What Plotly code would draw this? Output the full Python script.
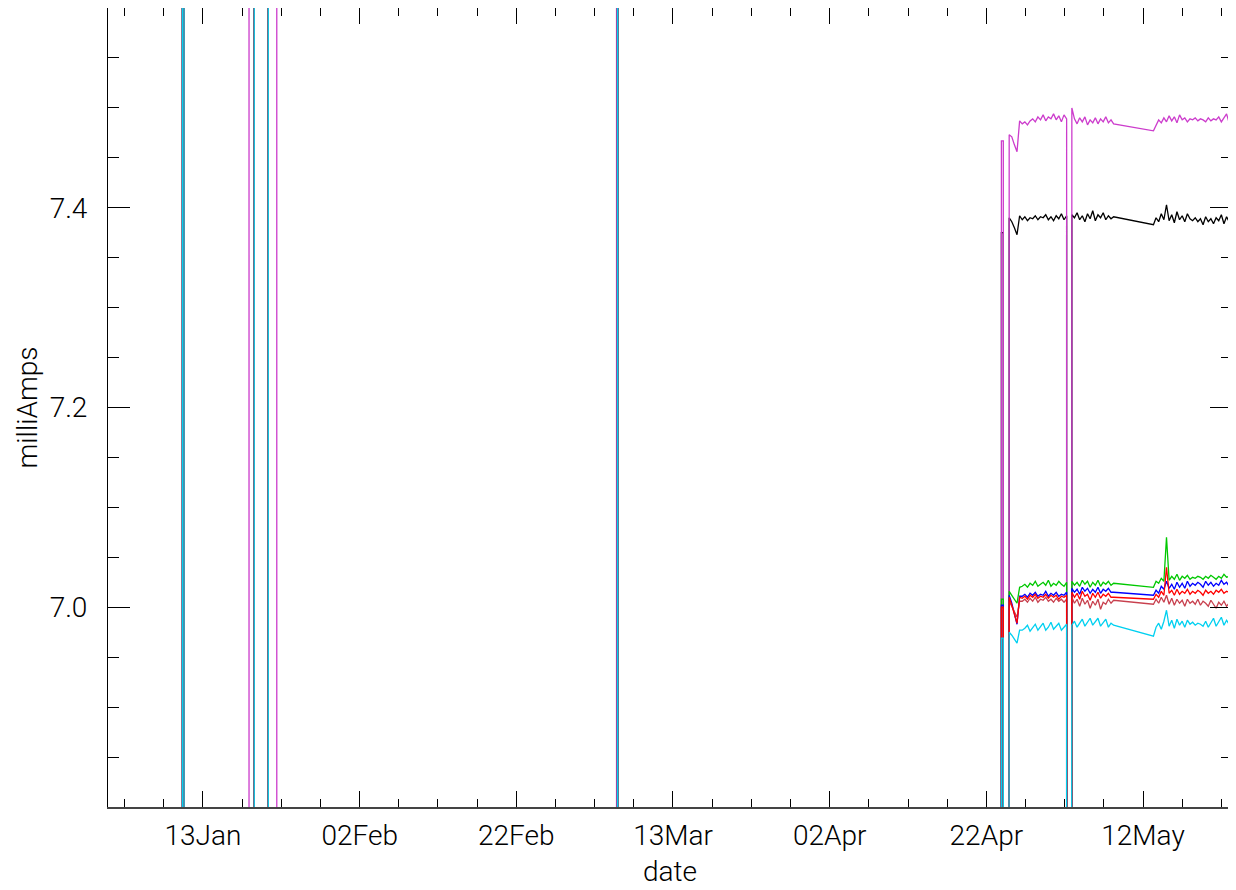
import plotly.graph_objects as go
import pandas as pd

# ---------------- data ----------------
LOW, HIGH = 0.0, 15.0          # off-scale readings (instrument off / junk)
START = "2012-01-01 00:00"

common_bursts = [("2012-01-10 09:00", "2012-01-10 14:00")]
magenta_bursts = common_bursts + [("2012-01-18 21:00", "2012-01-22 10:00"),
                                  ("2012-03-05 19:00", "2012-03-05 20:00")]
other_bursts = common_bursts + [("2012-01-19 13:00", "2012-01-21 08:00"),
                                ("2012-03-05 22:00", "2012-03-05 23:00")]

apr24_on, apr24_off = "2012-04-23 22:00", "2012-04-24 04:00"

segA_times = pd.date_range("2012-04-24 22:00", periods=23, freq="8h")
segB_times = pd.date_range("2012-05-02 22:00", periods=17, freq="8h")
segC_times = pd.date_range("2012-05-13 08:00", periods=31, freq="8h")

series_names = ["black", "magenta", "green", "blue", "darkred", "red", "cyan"]
series_colors = ["#000000", "#cc3ccc", "#00c800", "#0000ff", "#c8404e", "#ff0000", "#00d0f0"]

apr24_level = {"black": 7.375, "magenta": 7.467, "green": 7.008, "blue": 7.002,
               "darkred": 6.998, "red": 7.000, "cyan": 6.969}

black_A = [7.390, 7.386, 7.380, 7.373, 7.392, 7.388, 7.391, 7.387, 7.390, 7.389, 7.392, 7.388,
           7.391, 7.390, 7.393, 7.388, 7.391, 7.387, 7.392, 7.389, 7.394, 7.388, 7.392]
magenta_A = [7.473, 7.471, 7.463, 7.456, 7.487, 7.484, 7.486, 7.483, 7.487, 7.489, 7.486, 7.491,
             7.488, 7.493, 7.487, 7.491, 7.489, 7.494, 7.488, 7.492, 7.486, 7.493, 7.489]
green_A = [7.016, 7.012, 7.008, 7.004, 7.020, 7.021, 7.023, 7.020, 7.024, 7.022, 7.026, 7.021,
           7.023, 7.025, 7.022, 7.027, 7.021, 7.024, 7.022, 7.026, 7.023, 7.021, 7.025]
blue_A = [7.012, 7.004, 6.993, 6.983, 7.011, 7.011, 7.013, 7.010, 7.014, 7.012, 7.015, 7.011,
          7.013, 7.012, 7.016, 7.011, 7.014, 7.012, 7.015, 7.011, 7.013, 7.012, 7.015]
darkred_A = [7.006, 7.001, 6.995, 6.990, 7.006, 7.006, 7.008, 7.005, 7.009, 7.006, 7.010, 7.005,
             7.008, 7.007, 7.010, 7.006, 7.008, 7.005, 7.009, 7.006, 7.008, 7.005, 7.008]
red_A = [7.010, 7.002, 6.993, 6.984, 7.010, 7.009, 7.011, 7.008, 7.012, 7.010, 7.013, 7.009,
         7.011, 7.010, 7.013, 7.009, 7.012, 7.010, 7.012, 7.008, 7.011, 7.010, 7.012]
cyan_A = [6.975, 6.972, 6.968, 6.964, 6.977, 6.977, 6.979, 6.982, 6.976, 6.979, 6.983, 6.977,
          6.980, 6.984, 6.977, 6.980, 6.985, 6.978, 6.981, 6.984, 6.977, 6.980, 6.983]

black_B = [7.393, 7.390, 7.395, 7.388, 7.392, 7.386, 7.394, 7.389, 7.397, 7.387, 7.393, 7.390,
           7.395, 7.388, 7.392, 7.389, 7.391]
magenta_B = [7.500, 7.489, 7.484, 7.490, 7.486, 7.491, 7.483, 7.488, 7.485, 7.490, 7.484, 7.489,
             7.486, 7.491, 7.485, 7.488, 7.484]
green_B = [7.026, 7.022, 7.025, 7.021, 7.027, 7.023, 7.026, 7.020, 7.025, 7.022, 7.027, 7.021,
           7.025, 7.023, 7.026, 7.022, 7.024]
blue_B = [7.019, 7.015, 7.018, 7.013, 7.020, 7.016, 7.019, 7.014, 7.018, 7.015, 7.020, 7.014,
          7.018, 7.016, 7.019, 7.015, 7.015]
darkred_B = [7.010, 7.004, 7.008, 7.001, 7.009, 7.003, 7.007, 6.999, 7.006, 7.002, 7.008, 6.998,
             7.005, 7.003, 7.008, 7.004, 7.007]
red_B = [7.015, 7.010, 7.014, 7.008, 7.016, 7.011, 7.013, 7.007, 7.014, 7.010, 7.015, 7.009,
         7.013, 7.011, 7.014, 7.010, 7.010]
cyan_B = [6.982, 6.986, 6.980, 6.984, 6.988, 6.981, 6.985, 6.989, 6.982, 6.986, 6.989, 6.981,
          6.985, 6.988, 6.980, 6.984, 6.982]

black_C = [7.383, 7.390, 7.386, 7.394, 7.388, 7.403, 7.387, 7.393, 7.385, 7.396, 7.388, 7.392,
           7.386, 7.394, 7.389, 7.387, 7.390, 7.386, 7.389, 7.383, 7.391, 7.386, 7.389, 7.384,
           7.390, 7.387, 7.393, 7.384, 7.391, 7.386, 7.388]
magenta_C = [7.477, 7.483, 7.488, 7.485, 7.490, 7.486, 7.492, 7.487, 7.491, 7.485, 7.493, 7.488,
             7.490, 7.486, 7.489, 7.488, 7.490, 7.487, 7.489, 7.488, 7.486, 7.490, 7.487, 7.489,
             7.488, 7.491, 7.486, 7.490, 7.494, 7.485, 7.489]
green_C = [7.020, 7.026, 7.024, 7.029, 7.026, 7.070, 7.027, 7.031, 7.028, 7.033, 7.027, 7.031,
           7.029, 7.032, 7.028, 7.030, 7.029, 7.031, 7.030, 7.028, 7.031, 7.029, 7.032, 7.030,
           7.028, 7.031, 7.029, 7.033, 7.030, 7.031, 7.029]
blue_C = [7.012, 7.017, 7.014, 7.021, 7.018, 7.026, 7.019, 7.023, 7.018, 7.025, 7.020, 7.024,
          7.019, 7.026, 7.021, 7.024, 7.022, 7.025, 7.023, 7.020, 7.026, 7.022, 7.025, 7.021,
          7.024, 7.022, 7.027, 7.023, 7.025, 7.021, 7.021]
darkred_C = [7.003, 7.008, 7.004, 7.010, 7.005, 7.012, 7.003, 7.009, 7.002, 7.008, 7.004, 7.007,
             7.001, 7.008, 7.004, 7.006, 7.003, 7.008, 7.002, 7.006, 7.004, 7.001, 7.007, 7.003,
             6.999, 7.005, 7.002, 7.006, 7.001, 7.004, 7.002]
red_C = [7.008, 7.013, 7.010, 7.016, 7.012, 7.040, 7.014, 7.017, 7.012, 7.018, 7.013, 7.016,
         7.014, 7.018, 7.013, 7.016, 7.014, 7.017, 7.015, 7.012, 7.017, 7.014, 7.016, 7.013,
         7.017, 7.015, 7.018, 7.014, 7.016, 7.015, 7.016]
cyan_C = [6.971, 6.980, 6.984, 6.978, 6.986, 6.997, 6.981, 6.987, 6.979, 6.988, 6.982, 6.986,
          6.980, 6.987, 6.983, 6.985, 6.982, 6.984, 6.983, 6.981, 6.986, 6.980, 6.985, 6.989,
          6.981, 6.986, 6.990, 6.982, 6.987, 6.983, 6.984]

seg_values = {
    "black": (black_A, black_B, black_C),
    "magenta": (magenta_A, magenta_B, magenta_C),
    "green": (green_A, green_B, green_C),
    "blue": (blue_A, blue_B, blue_C),
    "darkred": (darkred_A, darkred_B, darkred_C),
    "red": (red_A, red_B, red_C),
    "cyan": (cyan_A, cyan_B, cyan_C),
}

x_range = ["2011-12-31 21:00", "2012-05-23 08:40"]
y_range = [6.8, 7.6]
y_major = [7.0, 7.2, 7.4]
y_major_text = ["7.0", "7.2", "7.4"]
y_minor = [6.85, 6.9, 6.95, 7.05, 7.1, 7.15, 7.25, 7.3, 7.35, 7.45, 7.5, 7.55]
x_title = "date"
y_title = "milliAmps"

# ---------------- build ----------------
EPS = pd.Timedelta(minutes=10)


def build(name):
    bursts = magenta_bursts if name == "magenta" else other_bursts
    a, b, c = seg_values[name]
    t = [pd.Timestamp(START)]
    v = [LOW]
    for up, down in bursts:
        up, down = pd.Timestamp(up), pd.Timestamp(down)
        t += [up, up + EPS, down, down + EPS]
        v += [LOW, HIGH, HIGH, LOW]
    on, off = pd.Timestamp(apr24_on), pd.Timestamp(apr24_off)
    lvl = apr24_level[name]
    t += [on, on + EPS, off, off + EPS, segA_times[0] - EPS]
    v += [LOW, lvl, lvl, LOW, LOW]
    t += list(segA_times)
    v += a
    t += [segA_times[-1] + EPS, segB_times[0] - EPS]
    v += [LOW, LOW]
    t += list(segB_times) + list(segC_times)
    v += b + c
    return t, v


fig = go.Figure()
for name, col in zip(series_names, series_colors):
    t, v = build(name)
    fig.add_trace(go.Scatter(x=t, y=v, mode="lines", line=dict(color=col, width=1.3),
                             showlegend=False, hoverinfo="skip"))

# empty trace so the mirrored (top / right) tick axes get drawn
fig.add_trace(go.Scatter(x=[], y=[], xaxis="x2", yaxis="y2", showlegend=False,
                         hoverinfo="skip"))

FONT = dict(family="Roboto", size=28, color="#000000", weight=300)
DAY = 86400000
TICKC = "#000000"

xticks = dict(tickmode="linear", tick0="2012-01-13", dtick=20 * DAY,
              ticks="inside", ticklen=16, tickwidth=1, tickcolor=TICKC,
              showgrid=False, zeroline=False, automargin=False,
              minor=dict(ticks="inside", ticklen=8, tickwidth=1, tickcolor=TICKC,
                         tick0="2012-01-13", dtick=5 * DAY, showgrid=False))
yticks = dict(tickmode="array", tickvals=y_major, ticktext=y_major_text,
              ticks="inside", ticklen=22, tickwidth=1, tickcolor=TICKC,
              showgrid=False, zeroline=False, automargin=False,
              minor=dict(ticks="inside", ticklen=11, tickwidth=1, tickcolor=TICKC,
                         tickmode="array", tickvals=y_minor, showgrid=False))

# the page body offsets the figure by 8px: size/margins compensate for that
fig.update_layout(
    width=1228, height=882, autosize=False,
    margin=dict(l=100, r=4, t=0, b=83),
    paper_bgcolor="white", plot_bgcolor="white",
    font=FONT,
    xaxis=dict(
        type="date", range=x_range, tickformat="%d%b",
        showline=True, linecolor="#444444", linewidth=1.5,
        tickfont=FONT, ticklabelstandoff=3,
        **xticks,
    ),
    xaxis2=dict(
        type="date", range=x_range, overlaying="x", side="top", anchor="y",
        showline=True, linecolor="#000000", linewidth=1, showticklabels=False,
        **xticks,
    ),
    yaxis=dict(
        range=y_range,
        showline=True, linecolor="#000000", linewidth=1,
        tickfont=FONT, ticklabelstandoff=14,
        **yticks,
    ),
    yaxis2=dict(
        range=y_range, overlaying="y", side="right", anchor="x",
        showline=True, linecolor="#000000", linewidth=1, showticklabels=False,
        **yticks,
    ),
    annotations=[
        dict(text=x_title, xref="paper", yref="paper", x=0.5, y=0,
             xanchor="center", yanchor="middle", yshift=-64, showarrow=False, font=FONT),
        dict(text=y_title, xref="paper", yref="paper", x=0, y=0.5, textangle=-90,
             xanchor="center", yanchor="middle", xshift=-81, showarrow=False, font=FONT),
    ],
)

fig.write_html("out.html")
